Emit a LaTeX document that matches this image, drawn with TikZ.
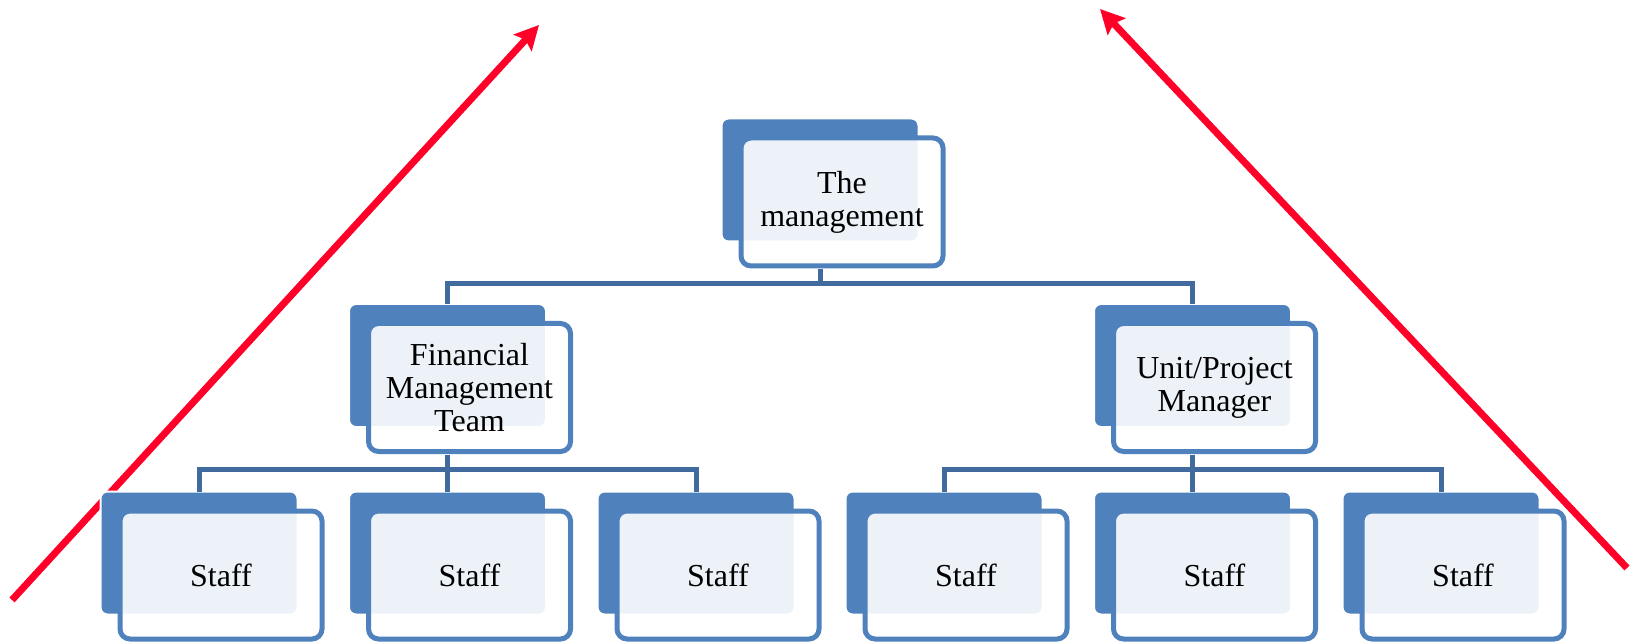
\documentclass[tikz,border=0pt]{standalone}
\usepackage{fontspec}
\setmainfont{Liberation Serif}
\usetikzlibrary{trees,backgrounds,arrows.meta}
\definecolor{backblue}{RGB}{79,129,189}
\definecolor{linkblue}{RGB}{65,106,158}
\definecolor{arrowred}{RGB}{255,0,40}
\tikzset{
  orgbox/.style={draw=backblue,line width=2.5pt,rounded corners=5pt,
                 fill=white,fill opacity=0.9,text opacity=1,
                 minimum width=101pt,minimum height=64pt,inner sep=0pt,
                 align=center,font=\fontsize{16}{16.5}\selectfont},
  backbox/.style={fill=backblue,draw=white,line width=1pt,rounded corners=3.5pt},
  trend/.style={draw=arrowred,line width=3.5pt,
                -{Stealth[length=12pt,width=12pt,inset=2pt]}}
}
\begin{document}
\begin{tikzpicture}
\useasboundingbox (0,0) rectangle (816pt,321.5pt);
\tikzstyle{every node}=[orgbox]
\node (top) at (421pt,220.5pt) {The\\management} [
   edge from parent/.style={draw=linkblue,line width=2.5pt},
   edge from parent path={([shift={(-11pt,-33.5pt)}]\tikzparentnode.center)
        -- ([shift={(-11pt,-41pt)}]\tikzparentnode.center)
        -| ([shift={(-11pt,41.5pt)}]\tikzchildnode.center)},
   level 1/.style={level distance=92.75pt,sibling distance=372.5pt},
   level 2/.style={level distance=93.75pt,sibling distance=124.25pt},
  ]
  child {node (fin) {Financial\\Management\\Team}
         child {node (s1) {Staff}}
         child {node (s2) {Staff}}
         child {node (s3) {Staff}}}
  child {node (unit) {Unit/Project\\Manager}
         child {node (s4) {Staff}}
         child {node (s5) {Staff}}
         child {node (s6) {Staff}}};
% trend arrows and back plates go behind the boxes
\begin{scope}[on background layer]
  \coordinate (lfoot) at (6pt,21.5pt);
  \coordinate (ltip) at (269.5pt,309pt);
  \coordinate (rfoot) at (813.5pt,37.5pt);
  \coordinate (rtip) at (550pt,317pt);
  \draw[trend] (lfoot) -- (ltip);
  \draw[trend] (rfoot) -- (rtip);
  \foreach \n in {top,fin,unit,s1,s2,s3,s4,s5,s6}
    \path[backbox] ([shift={(-60.25pt,-19.75pt)}]\n.center)
       rectangle ([shift={(38.25pt,41.75pt)}]\n.center);
\end{scope}
\end{tikzpicture}
\end{document}
